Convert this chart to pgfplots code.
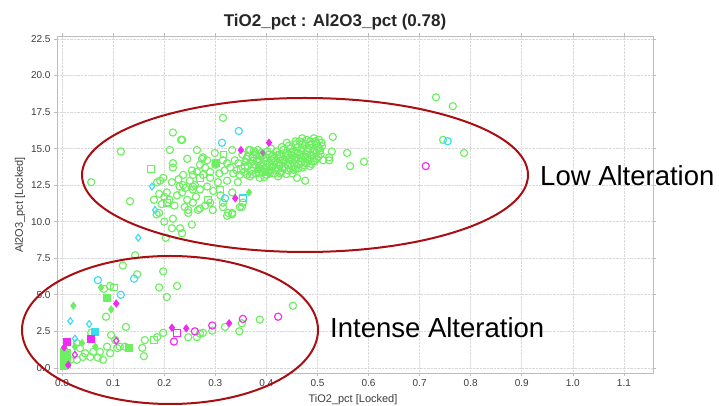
\documentclass[border=0pt]{standalone}
\usepackage{fontspec}
\setmainfont{Liberation Sans}
\usepackage{pgfplots}
\pgfplotsset{compat=1.18}
\definecolor{ptgreen}{HTML}{6EEE62}
\definecolor{ptcyan}{HTML}{3ADCF2}
\definecolor{ptmag}{HTML}{F02AF0}
\definecolor{ptgrey}{HTML}{9A8A9A}
\definecolor{ellred}{HTML}{A80E12}
\definecolor{gridc}{HTML}{D9D9D9}
\definecolor{framec}{HTML}{BDBDBD}
\definecolor{tickc}{HTML}{3C3C3C}

\pgfplotsset{
  mk/.style={only marks, line width=1.15pt},
  opencirc/.style={mk, mark=o, mark size=3.6pt},
  opensq/.style={mk, mark=square, mark size=3.3pt},
  fillsq/.style={mk, mark=square*, mark size=3.4pt},
  filldia/.style={mk, mark=diamond*, mark size=3.3pt},
  opendia/.style={mk, mark=diamond, mark size=3.4pt},
}

\begin{document}
\begin{tikzpicture}
\path[use as bounding box] (0,0) rectangle (719pt,406pt);
\begin{axis}[
  at={(57pt,33pt)}, anchor=south west,
  scale only axis, width=596pt, height=337pt,
  xmin=-0.01, xmax=1.157, ymin=-0.35, ymax=22.7,
  xtick={0,0.1,0.2,0.3,0.4,0.5,0.6,0.7,0.8,0.9,1.0,1.1},
  ytick={0,2.5,5,7.5,10,12.5,15,17.5,20,22.5},
  xticklabel style={/pgf/number format/.cd, fixed, fixed zerofill, precision=1, assume math mode=true},
  yticklabel style={/pgf/number format/.cd, fixed, fixed zerofill, precision=1, assume math mode=true},
  tick label style={font=\fontsize{10}{12}\selectfont, text=tickc},
  grid=major,
  grid style={densely dotted, gridc, line width=0.6pt},
  axis line style={framec, line width=0.8pt},
  tick align=outside, major tick length=3pt,
  tick style={framec, line width=0.6pt},
  clip=false,
]
% green open circles -- upper band
\addplot[opencirc, ptgreen] table {
0.057 12.7
0.115 14.8
0.133 11.4
0.217 16.1
0.233 15.6
0.211 14.9
0.217 14.0
0.217 13.7
0.315 17.1
0.235 15.6
0.264 14.9
0.245 14.3
0.299 14.7
0.333 14.9
0.368 14.9
0.276 14.4
0.284 14.2
0.270 13.9
0.280 13.7
0.290 13.4
0.276 13.2
0.264 13.4
0.254 13.5
0.315 14.2
0.323 14.0
0.329 13.7
0.342 13.5
0.335 13.3
0.348 13.2
0.344 12.7
0.333 12.0
0.237 13.2
0.250 12.8
0.260 12.5
0.241 12.3
0.235 12.0
0.256 12.2
0.270 12.2
0.245 11.5
0.256 11.3
0.270 10.9
0.247 10.8
0.295 10.8
0.315 11.0
0.325 10.6
0.333 10.5
0.352 11.0
0.284 12.4
0.290 13.0
0.305 12.7
0.323 12.8
0.186 12.7
0.192 12.8
0.198 13.0
0.205 12.0
0.215 12.7
0.230 12.4
0.200 11.7
0.190 11.9
0.210 11.5
0.225 11.8
0.220 11.1
0.195 11.2
0.180 11.5
0.185 10.5
0.190 10.6
0.200 10.0
0.217 10.2
0.215 9.55
0.231 9.55
0.235 9.2
0.254 9.8
0.247 10.6
0.240 11.0
0.266 10.8
0.280 11.1
0.290 11.3
0.323 10.4
0.333 10.6
0.348 11.0
0.354 11.3
0.315 11.3
0.203 8.9
0.256 13.2
0.274 14.3
0.256 12.4
0.237 12.5
0.300 13.9
0.308 13.3
0.318 13.5
0.338 14.2
0.345 14.0
0.296 12.1
0.310 11.8
0.262 11.7
0.228 12.9
0.407 13.3
0.427 13.3
0.460 13.0
0.476 12.8
0.530 15.8
0.528 14.8
0.558 14.7
0.523 14.4
0.523 14.2
0.591 14.1
0.564 13.8
0.732 18.5
0.765 17.9
0.746 15.6
0.787 14.7
0.356 13.4
0.359 14.1
0.353 14.6
0.362 13.2
0.364 13.8
0.361 14.3
0.366 14.9
0.371 13.5
0.369 14.0
0.373 14.4
0.368 13.1
0.375 14.8
0.379 13.3
0.377 13.9
0.381 14.2
0.380 14.6
0.386 13.6
0.384 14.1
0.388 14.5
0.387 13.0
0.383 14.9
0.393 13.4
0.391 13.8
0.395 14.3
0.390 14.7
0.401 13.2
0.399 13.7
0.403 14.0
0.398 14.4
0.402 14.8
0.408 13.5
0.406 13.9
0.410 14.2
0.405 14.6
0.409 15.0
0.415 13.3
0.413 13.8
0.417 14.1
0.412 14.5
0.422 13.6
0.420 14.0
0.424 14.3
0.419 14.8
0.423 13.1
0.429 13.4
0.427 13.9
0.431 14.2
0.426 14.6
0.430 15.1
0.436 13.7
0.434 14.1
0.438 14.4
0.433 14.9
0.443 13.5
0.441 13.9
0.445 14.3
0.440 14.7
0.444 15.2
0.450 13.8
0.448 14.2
0.452 14.5
0.447 15.0
0.451 13.3
0.457 13.6
0.455 14.0
0.459 14.4
0.454 14.8
0.458 15.3
0.464 13.9
0.462 14.3
0.466 14.6
0.461 15.1
0.465 15.5
0.471 13.7
0.469 14.1
0.473 14.5
0.468 14.9
0.472 15.4
0.478 14.0
0.476 14.4
0.480 14.8
0.475 15.2
0.479 15.6
0.485 13.8
0.483 14.2
0.487 14.6
0.482 15.0
0.486 15.5
0.492 14.1
0.490 14.5
0.494 14.9
0.489 15.3
0.499 14.3
0.497 14.7
0.501 15.1
0.496 15.5
0.506 14.6
0.504 15.0
0.508 15.4
0.511 14.2
0.503 15.6
0.358 13.75
0.363 14.45
0.372 13.25
0.374 14.15
0.378 14.75
0.385 13.35
0.389 13.85
0.392 14.55
0.396 13.05
0.400 14.15
0.404 13.45
0.411 13.75
0.414 14.35
0.418 13.55
0.421 14.55
0.425 13.85
0.428 14.45
0.432 13.65
0.437 14.25
0.439 13.25
0.442 14.55
0.446 13.95
0.449 14.75
0.453 13.55
0.456 14.25
0.460 14.65
0.463 13.65
0.467 14.35
0.470 15.05
0.474 13.85
0.477 14.65
0.481 14.35
0.484 15.25
0.488 13.95
0.491 14.75
0.495 14.15
0.498 15.35
0.502 14.45
0.505 14.85
0.509 15.15
0.457 15.5
0.470 15.7
0.493 15.7
0.440 15.4
};
% green open circles -- lower group
\addplot[opencirc, ptgreen] table {
0.143 7.7
0.119 7.0
0.147 6.4
0.198 6.6
0.082 5.4
0.094 5.6
0.190 5.5
0.225 5.6
0.205 4.85
0.086 3.5
0.125 2.8
0.057 2.4
0.096 2.25
0.029 0.55
0.041 0.75
0.055 0.75
0.045 1.0
0.080 0.55
0.094 1.0
0.108 1.35
0.113 1.45
0.123 1.45
0.070 0.7
0.016 0.55
0.029 1.7
0.035 1.35
0.074 1.1
0.061 1.1
0.088 1.45
0.104 1.9
0.160 0.8
0.162 1.9
0.157 1.37
0.186 2.1
0.198 2.4
0.247 2.1
0.264 2.1
0.276 2.4
0.270 2.35
0.294 2.55
0.319 2.8
0.347 2.5
0.352 3.05
0.387 3.3
0.452 4.25
};
% green open squares
\addplot[opensq, ptgreen] table {
0.102 5.5
0.180 1.9
0.174 13.6
0.205 11.3
0.309 12.2
0.286 11.5
0.316 14.6
0.270 13.0
0.350 13.6
};
% green filled squares
\addplot[fillsq, ptgreen] table {
0.088 4.8
0.131 1.37
0.301 14.0
0.400 13.4
0.385 13.6
0.004 0.1
0.004 0.35
0.004 0.6
0.004 0.85
0.004 1.1
0.010 0.25
0.010 0.7
0.010 1.0
};
% green filled diamonds
\addplot[filldia, ptgreen] table {
0.076 5.5
0.022 4.25
0.096 4.0
0.039 1.7
0.025 1.45
0.065 1.45
0.366 12.0
};
% cyan
\addplot[opencirc, ptcyan] table {
0.346 16.2
0.313 15.4
0.319 11.6
0.755 15.5
0.070 6.0
0.141 6.1
0.115 5.0
};
\addplot[opendia, ptcyan] table {
0.176 12.4
0.182 10.8
0.149 8.9
0.016 3.2
0.053 3.0
0.025 2.0
};
\addplot[opensq, ptcyan] table {
0.354 11.6
};
\addplot[fillsq, ptcyan] table {
0.065 2.45
};
% magenta
\addplot[filldia, ptmag] table {
0.405 15.4
0.350 14.9
0.339 11.6
0.106 4.4
0.215 2.75
0.243 2.7
0.327 3.05
0.004 1.4
0.012 0.2
};
\addplot[opencirc, ptmag] table {
0.712 13.8
0.219 1.8
0.423 3.5
0.354 3.35
0.294 2.9
0.260 2.5
};
\addplot[opendia, ptmag] table {
0.106 1.85
0.025 0.9
};
\addplot[fillsq, ptmag] table {
0.057 2.0
0.010 1.8
};
\addplot[opensq, ptmag] table {
0.225 2.4
};
\addplot[filldia, ptgrey, mark size=2.8pt] table {
0.393 14.7
};
\end{axis}
% ellipses and notes
\draw[ellred, line width=2pt] (305pt,231pt) ellipse [x radius=223pt, y radius=77pt];
\draw[ellred, line width=2pt] (170pt,76pt) ellipse [x radius=148pt, y radius=74pt];
\node[anchor=base west, inner sep=0pt, font=\fontsize{27.5}{32}\selectfont] at (540pt,220pt) {Low Alteration};
\node[anchor=base west, inner sep=0pt, font=\fontsize{27.5}{32}\selectfont] at (330pt,68pt) {Intense Alteration};
% titles
\node[anchor=base, inner sep=0pt, font=\bfseries\fontsize{17}{20}\selectfont, text=black!85] at (335pt,379pt) {TiO2\_pct : Al2O3\_pct (0.78)};
\node[rotate=90, inner sep=0pt, font=\fontsize{11}{13}\selectfont, text=tickc] at (20pt,201pt) {Al2O3\_pct [Locked]};
\node[anchor=base, inner sep=0pt, font=\fontsize{11}{13}\selectfont, text=tickc] at (353pt,3pt) {TiO2\_pct [Locked]};
\end{tikzpicture}
\end{document}
